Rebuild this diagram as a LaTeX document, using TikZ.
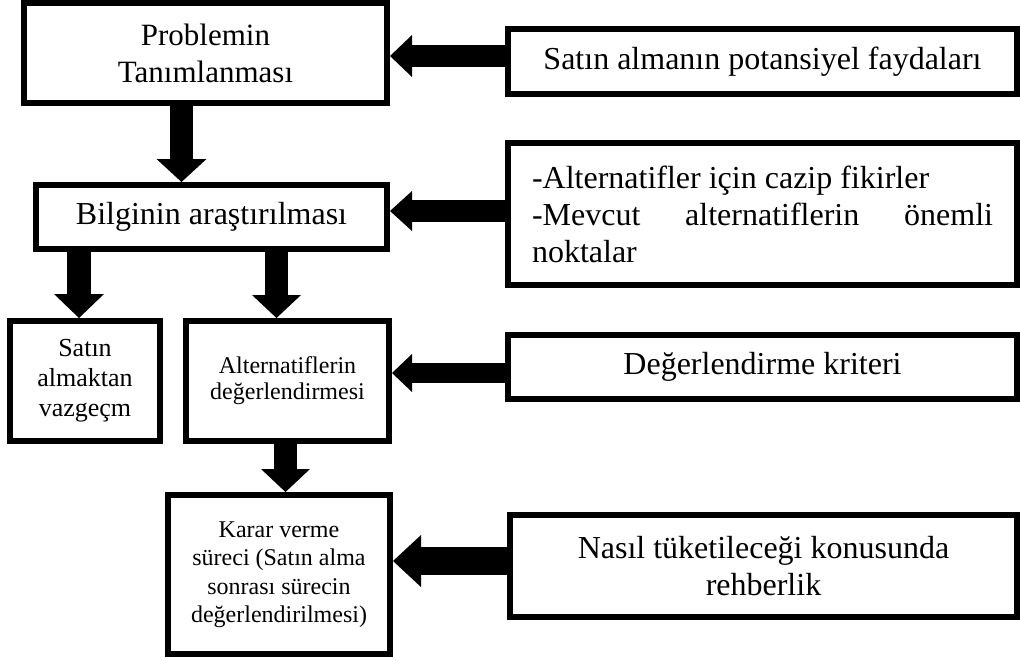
\documentclass[tikz,border=0pt]{standalone}
\usepackage{fontspec}
\setmainfont{Liberation Serif}
\usetikzlibrary{arrows.meta}
\hyphenpenalty=10000
\exhyphenpenalty=10000

\begin{document}
\begin{tikzpicture}[x=0.5pt, y=-0.5pt,
	box/.style={draw, line width=3pt, fill=white, inner sep=0pt, align=center},
	blockarrow/.style 2 args={line width=#1, -{Triangle[width=#2, length=#1, line width=0pt]}},
	big/.style={font=\fontsize{16}{18.5}\selectfont}]
\useasboundingbox (0,0) rectangle (1020,660);

% left column
\node[box, minimum width=181.5pt, minimum height=50pt, font=\fontsize{15.5}{18.5}\selectfont] (prob) at (205.5,53) {Problemin\\Tanımlanması};
\node[box, big, minimum width=175.5pt, minimum height=32pt] (bilgi) at (211.5,217) {Bilginin araştırılması};
\node[box, minimum width=75pt, minimum height=60pt, font=\fontsize{13}{15}\selectfont] (vazgec) at (85,381) {Satın\\almaktan\\vazgeçm};
\node[box, minimum width=101.5pt, minimum height=60pt, font=\fontsize{12}{13}\selectfont] (alter) at (287.5,381) {Alternatiflerin\\değerlendirmesi};
\node[box, minimum width=111pt, minimum height=79.5pt, font=\fontsize{12}{14.25}\selectfont] (karar) at (279,574.5) {Karar verme\\süreci (Satın alma\\sonrası sürecin\\değerlendirilmesi)};

% right column
\node[box, big, minimum width=254.5pt, minimum height=32.5pt] (fayda) at (762.5,61.5) {Satın almanın potansiyel faydaları};
\node[box, big, minimum width=254.5pt, minimum height=71pt, text width=230.5pt, align=justify] (fikir) at (762.5,214) {\noindent -Alternatifler için cazip fikirler\\-Mevcut alternatiflerin önemli noktalar};
\node[box, big, minimum width=254.5pt, minimum height=32pt] (kriter) at (762.5,367) {Değerlendirme kriteri};
\node[box, big, minimum width=253.5pt, minimum height=51pt] (rehber) at (763.5,566) {Nasıl tüketileceği konusunda\\rehberlik};

% downward arrows
\draw[blockarrow={11.5pt}{25pt}] ([xshift=-12pt]prob.south) -- ([xshift=-12pt]prob.south |- bilgi.north);
\draw[blockarrow={12pt}{25pt}] ([xshift=-3pt]vazgec.north |- bilgi.south) -- ([xshift=-3pt]vazgec.north);
\draw[blockarrow={11.5pt}{24.5pt}] ([xshift=-5.5pt]alter.north |- bilgi.south) -- ([xshift=-5.5pt]alter.north);
\draw[blockarrow={11.5pt}{24.5pt}] ([xshift=-1pt]alter.south) -- ([xshift=-1pt]alter.south |- karar.north);

% arrows from the right
\foreach \src/\dst/\dy/\w/\h in {fayda/prob/2.75pt/11pt/21pt, fikir/bilgi/1.5pt/11pt/20pt, kriter/alter/-3pt/10pt/19pt, rehber/karar/2.5pt/14pt/26pt}
	\draw[blockarrow={\w}{\h}] ([yshift=\dy]\src.west) -- ([yshift=\dy]\src.west -| \dst.east);
\end{tikzpicture}
\end{document}
